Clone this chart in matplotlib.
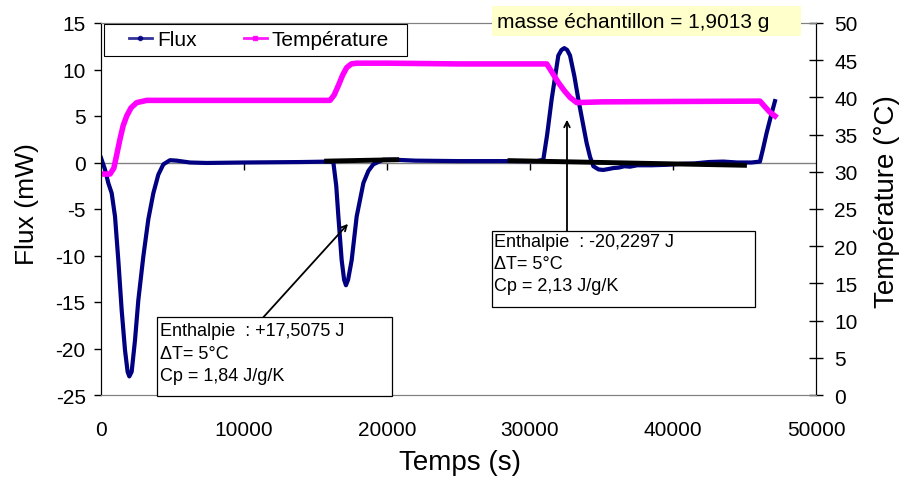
import matplotlib
matplotlib.use("Agg")
import matplotlib.pyplot as plt
from matplotlib.lines import Line2D
from matplotlib.patches import Rectangle

plt.rcParams['font.family'] = ['Liberation Sans', 'DejaVu Sans']
plt.rcParams['axes.unicode_minus'] = False

# ---------------- data ----------------
flux_t = [0, 280, 510, 748, 980, 1210, 1447, 1680, 1860, 1980, 2145, 2378, 2610,
          2960, 3310, 3660, 4010, 4360, 4825, 5290, 6220, 7390, 10000, 14000,
          16000, 16250, 16450, 16600, 16830, 17000, 17130, 17280, 17530, 17880,
          18350, 18700, 19040, 19720, 20500, 22000, 25000, 28000, 30500, 30930,
          31200, 31515, 31980, 32200, 32400, 32600, 32800, 33100, 33380, 33700,
          33960, 34200, 34430, 34800, 35120, 35500, 35820, 36200, 36600, 36990,
          37500, 38500, 39500, 40500, 41500, 42500, 43500, 44500, 45500, 46080,
          46300, 46550, 46850, 47130]
flux_v = [0.5, -0.75, -2.2, -3.3, -5.8, -10.5, -15.9, -20.2, -22.5, -23.0, -22.5,
          -19.1, -14.8, -10.1, -6.1, -3.3, -1.3, -0.2, 0.25, 0.2, 0.0, -0.05, 0.0,
          0.05, 0.1, 0.0, -2.5, -5.8, -10.5, -12.6, -13.2, -12.6, -10.5, -5.8,
          -2.2, -0.9, -0.2, 0.3, 0.3, 0.2, 0.15, 0.15, 0.15, 0.3, 3.0, 6.8, 11.5,
          12.1, 12.3, 12.1, 11.5, 9.3, 6.8, 4.2, 2.1, 0.6, -0.4, -0.75, -0.8, -0.7,
          -0.6, -0.55, -0.4, -0.45, -0.3, -0.3, -0.25, -0.15, -0.1, 0.05, 0.1, 0.0,
          0.0, 0.1, 1.5, 3.2, 5.0, 6.6]

temp_t = [0, 630, 900, 1100, 1329, 1550, 1797, 2100, 2497, 3196, 8000, 16014,
          16300, 16600, 16900, 17180, 17500, 17880, 20000, 25000, 31170, 31500,
          31980, 32400, 32800, 33270, 35000, 40000, 46080, 46400, 46780, 47130]
temp_v = [29.7, 29.7, 30.5, 32.3, 34.4, 36.2, 37.5, 38.6, 39.3, 39.6, 39.6, 39.6,
          40.3, 41.6, 43.0, 44.0, 44.5, 44.6, 44.6, 44.5, 44.5, 43.5, 42.0, 40.9,
          40.0, 39.3, 39.4, 39.45, 39.5, 38.8, 38.0, 37.5]

base1_t = [15780, 20680]
base1_v = [0.15, 0.3]
base2_t = [28600, 45000]
base2_v = [0.2, -0.3]

x_ticks = [0, 10000, 20000, 30000, 40000, 50000]
y1_ticks = [15, 10, 5, 0, -5, -10, -15, -20, -25]
y2_ticks = [0, 5, 10, 15, 20, 25, 30, 35, 40, 45, 50]

label_flux = "Flux"
label_temp = "Température"
xlabel = "Temps (s)"
y1label = "Flux (mW)"
y2label = "Température (°C)"
mass_text = "masse échantillon = 1,9013 g"
note1 = ["Enthalpie  : +17,5075 J", "\u0394T= 5°C", "Cp = 1,84 J/g/K"]
note2 = ["Enthalpie  : -20,2297 J", "\u0394T= 5°C", "Cp = 2,13 J/g/K"]

NAVY = "#000080"
MAGENTA = "#FF00FF"

W, H = 903, 481


def fx(px):
    return px / W


def fy(py):
    return 1 - py / H


# ---------------- figure ----------------
fig = plt.figure(figsize=(9.03, 4.81), dpi=100)
ax = fig.add_axes([fx(101), fy(396), (816-101)/W, (396-24)/H])
ax2 = ax.twinx()

ax.plot(flux_t, flux_v, color=NAVY, lw=3, solid_joinstyle='round', zorder=3)
ax.plot(base1_t, base1_v, color='black', lw=3.5, zorder=4)
ax.plot(base2_t, base2_v, color='black', lw=3.5, zorder=4)
ax.axhline(0, color='#808080', lw=1, zorder=1)

ax2.plot(temp_t, temp_v, color=MAGENTA, lw=4, solid_joinstyle='round')

ax.set_xlim(0, 50000)
ax.set_ylim(-25, 15)
ax2.set_ylim(0, 50)
ax.set_yticks(y1_ticks)
ax2.set_yticks(y2_ticks)
ax.set_xticks(x_ticks)
ax.set_xticklabels([str(v) for v in x_ticks])

for a in (ax, ax2):
    a.spines['top'].set_color('#808080')
    a.spines['bottom'].set_color('#808080')
    a.spines['left'].set_color('black')
    a.spines['right'].set_color('black')

ax.tick_params(axis='x', length=0, pad=18, labelsize=15)
ax.tick_params(axis='y', direction='out', length=5, width=1, pad=6, labelsize=15)
ax2.tick_params(axis='y', direction='inout', length=10, width=1, pad=8, labelsize=15)

# tick marks on the zero line
sec = ax.secondary_xaxis(25/40)
sec.set_xticks(x_ticks[1:-1])
sec.xaxis.set_ticks_position('bottom')
sec.tick_params(axis='x', direction='out', length=5, width=1, labelbottom=False, labeltop=False)
sec.set_xticklabels([])
sec.spines['bottom'].set_visible(False)
sec.spines['top'].set_visible(False)

fig.text(fx(460), fy(463), xlabel, ha='center', va='center', fontsize=20)
fig.text(fx(27), fy(204), y1label, ha='center', va='center', rotation=90, fontsize=19)
fig.text(fx(887), fy(202), y2label, ha='center', va='center', rotation=90, fontsize=20)

# legend frame + legend
fig.patches.append(Rectangle((fx(104), fy(57)), (407-104)/W, (57-25)/H,
                             transform=fig.transFigure, facecolor='white',
                             edgecolor='black', lw=0.8, zorder=5))
handles = [Line2D([], [], color=NAVY, lw=2, marker='o', markersize=3, alpha=0.8),
           Line2D([], [], color=MAGENTA, lw=2, marker='s', markersize=3.5, alpha=0.9)]
leg = fig.legend(handles, [label_flux, label_temp], loc='center left',
                 bbox_to_anchor=(fx(129), fy(41)), ncol=2, fontsize=15, frameon=False,
                 borderpad=0, handlelength=1.1, handletextpad=0.25,
                 columnspacing=2.25, borderaxespad=0)
leg.set_zorder(6)

# sample mass box
fig.patches.append(Rectangle((fx(492), fy(37)), (801-492)/W, (37-7)/H,
                             transform=fig.transFigure, facecolor='#FFFFCC',
                             edgecolor='none', zorder=5))
fig.text(fx(497), fy(22), mass_text, ha='left', va='center', fontsize=15, zorder=6)

# annotation boxes
def note_box(x0, y0, x1, y1, lines, tx, ty_list):
    fig.patches.append(Rectangle((fx(x0), fy(y1)), (x1-x0)/W, (y1-y0)/H,
                                 transform=fig.transFigure, facecolor='white',
                                 edgecolor='black', lw=0.9, zorder=5))
    for s, ty in zip(lines, ty_list):
        fig.text(fx(tx), fy(ty), s, ha='left', va='center', fontsize=13, zorder=6)


note_box(157, 318, 392, 397, note1, 160, [332, 355, 377])
note_box(492, 232, 755, 308, note2, 494, [243, 265, 287])

ax.annotate("", xy=(17273, -6.6), xytext=(11259, -16.8),
            arrowprops=dict(arrowstyle='->', color='black', lw=1.3, shrinkA=0, shrinkB=0))
ax.annotate("", xy=(32587, 4.6), xytext=(32587, -7.4),
            arrowprops=dict(arrowstyle='->', color='black', lw=1.3, shrinkA=0, shrinkB=0))

fig.savefig("out.png", dpi=100)
